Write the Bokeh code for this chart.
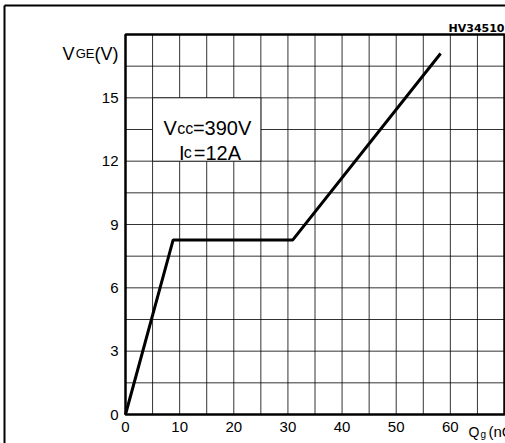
from bokeh.plotting import figure
from bokeh.models import Range1d
from bokeh.core.properties import value
from bokeh.embed import file_html
from bokeh.resources import INLINE

# ---- data ----
qg = [0, 8.8, 30.9, 58.2]
vge = [0, 8.27, 8.27, 17.1]
x_ticks = [0, 10, 20, 30, 40, 50, 60]
y_ticks = [0, 3, 6, 9, 12, 15]
x_grid = [5 * i for i in range(1, 14)]
y_grid = [1.5 * i for i in range(1, 12)]
x_lim = [0, 70]
y_lim = [0, 18]
box_x = [5, 25]
box_y = [12, 15]

# ---- layout (pixels) ----
W, H = 505, 443
FL, FR, FT, FB = 125, 504, 34, 414     # frame edges inside the canvas
sx = (FR - FL) / (x_lim[1] - x_lim[0])
sy = (FB - FT) / (y_lim[1] - y_lim[0])
xr = Range1d(x_lim[0] - FL / sx, x_lim[1] + (W - FR) / sx)
yr = Range1d(y_lim[0] - (H - FB) / sy, y_lim[1] + FT / sy)

FONT = "Liberation Sans"

p = figure(width=W, height=H, output_backend="svg", toolbar_location=None,
           x_range=xr, y_range=yr, min_border=0)
p.axis.visible = False
p.grid.visible = False
p.outline_line_color = None
p.background_fill_color = "white"
p.border_fill_color = "white"

# grid
p.segment(x0=x_grid, y0=[y_lim[0]] * len(x_grid), x1=x_grid, y1=[y_lim[1]] * len(x_grid),
          line_color="black", line_alpha=0.8, line_width=1)
p.segment(x0=[x_lim[0]] * len(y_grid), y0=y_grid, x1=[x_lim[1]] * len(y_grid), y1=y_grid,
          line_color="black", line_alpha=0.8, line_width=1)

# white box behind the conditions text
p.quad(left=[box_x[0]], right=[box_x[1]], bottom=[box_y[0]], top=[box_y[1]],
       fill_color="white", line_color="black", line_alpha=0.8, line_width=1)

# frame of the plot area
p.quad(left=[x_lim[0]], right=[x_lim[1]], bottom=[y_lim[0]], top=[y_lim[1]],
       fill_alpha=0, line_color="black", line_width=2.5)

# outer border of the drawing
bx0 = xr.start + 4 / sx
by1 = yr.end - 5 / sy
p.line(x=[bx0, xr.end + 5, xr.end + 5, bx0, bx0],
       y=[by1, by1, yr.start - 5, yr.start - 5, by1],
       line_color="black", line_width=2)

# curve
p.line(qg, vge, line_color="black", line_width=3)

# tick labels
p.text(x=x_ticks, y=[-12 / sy] * len(x_ticks), text=[str(t) for t in x_ticks],
       text_font=value(FONT), text_font_size="15px", text_align="center",
       text_baseline="middle", text_color="black")
p.text(x=[-7 / sx] * len(y_ticks), y=y_ticks, text=[str(t) for t in y_ticks],
       text_font=value(FONT), text_font_size="15px", text_align="right",
       text_baseline="middle", text_color="black")

def lab(x, y, t, size, align="left", font=FONT, style="normal"):
    p.text(x=[x], y=[y], text=[t], text_font=value(font), text_font_size=size,
           text_align=align, text_baseline="alphabetic", text_font_style=style,
           text_color="black")

# y axis title
lab(-11.64, 17.10, "V", "18px")
lab(-9.20, 17.10, "GE", "13px")
lab(-1.29, 17.10, "(V)", "18px", align="right")
# conditions
lab(7.02, 13.55, "V", "20px")
lab(9.55, 13.55, "cc", "16px")
lab(12.45, 13.55, "=390V", "20px")
lab(9.90, 12.41, "I", "20px")
lab(10.75, 12.41, "c", "16px")
lab(12.60, 12.41, "=12A", "20px")
# figure id
lab(70.0, 18.28, "HV34510", "11px", align="right", font="DejaVu Sans", style="bold")
# x axis title
lab(63.35, -0.81, "Q", "14px")
lab(65.57, -0.95, "g", "10px")
lab(67.05, -0.81, "(nC)", "15px")

open("out.html", "w").write(file_html(p, INLINE))
